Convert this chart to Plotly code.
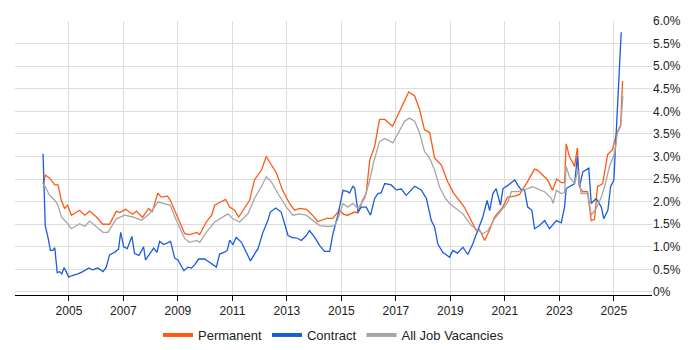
import plotly.graph_objects as go

perm_x = [2004.05, 2004.14, 2004.29, 2004.48, 2004.60, 2004.72, 2004.84, 2004.95, 2005.09, 2005.39,
          2005.58, 2005.76, 2006.01, 2006.24, 2006.49, 2006.74, 2006.86, 2007.08, 2007.34, 2007.48,
          2007.70, 2007.92, 2008.06, 2008.26, 2008.39, 2008.62, 2008.72, 2008.88, 2009.06, 2009.25,
          2009.43, 2009.69, 2009.80, 2010.05, 2010.24, 2010.35, 2010.53, 2010.75, 2010.90, 2011.08,
          2011.23, 2011.45, 2011.63, 2011.81, 2012.07, 2012.24, 2012.44, 2012.62, 2012.84, 2013.10,
          2013.28, 2013.47, 2013.72, 2013.94, 2014.13, 2014.46, 2014.68, 2014.93, 2015.08, 2015.23,
          2015.48, 2015.61, 2015.78, 2015.91, 2016.04, 2016.22, 2016.40, 2016.59, 2016.88, 2017.14,
          2017.32, 2017.47, 2017.69, 2017.87, 2018.05, 2018.24, 2018.42, 2018.67, 2018.90, 2019.12,
          2019.51, 2019.77, 2019.95, 2020.07, 2020.26, 2020.44, 2020.62, 2020.92, 2021.10, 2021.36,
          2021.54, 2021.80, 2022.09, 2022.20, 2022.46, 2022.57, 2022.75, 2022.90, 2023.08, 2023.19,
          2023.25, 2023.37, 2023.56, 2023.66, 2023.74, 2023.85, 2024.03, 2024.17, 2024.29, 2024.40,
          2024.59, 2024.77, 2024.95, 2025.09, 2025.25, 2025.32]
perm_y = [2.40, 2.59, 2.52, 2.37, 2.37, 2.03, 1.85, 1.92, 1.70, 1.81,
          1.70, 1.79, 1.66, 1.50, 1.50, 1.79, 1.76, 1.83, 1.72, 1.79,
          1.65, 1.85, 1.78, 2.19, 2.10, 2.12, 2.03, 1.81, 1.58, 1.29,
          1.27, 1.32, 1.27, 1.56, 1.70, 1.92, 1.98, 2.05, 1.88, 1.81,
          1.66, 1.88, 2.03, 2.48, 2.70, 3.00, 2.81, 2.63, 2.25, 1.96,
          1.81, 1.85, 1.83, 1.70, 1.56, 1.63, 1.63, 1.81, 1.72, 1.70,
          1.77, 1.75, 2.03, 2.18, 2.92, 3.22, 3.82, 3.82, 3.67, 4.00,
          4.26, 4.43, 4.34, 4.04, 3.59, 3.53, 2.97, 2.81, 2.44, 2.19,
          1.88, 1.58, 1.36, 1.38, 1.14, 1.38, 1.66, 1.88, 2.10, 2.12,
          2.16, 2.41, 2.72, 2.70, 2.55, 2.48, 2.25, 2.50, 2.42, 2.42,
          3.28, 3.00, 2.78, 3.19, 2.33, 2.22, 2.22, 1.58, 1.61, 2.33,
          2.40, 3.04, 3.15, 3.48, 3.70, 4.67]

cont_x = [2004.05, 2004.13, 2004.23, 2004.32, 2004.41, 2004.48, 2004.57, 2004.66, 2004.74, 2004.82,
          2004.90, 2004.99, 2005.15, 2005.33, 2005.51, 2005.73, 2005.86, 2006.06, 2006.25, 2006.37,
          2006.49, 2006.68, 2006.82, 2006.90, 2007.01, 2007.14, 2007.31, 2007.41, 2007.57, 2007.74,
          2007.81, 2007.96, 2008.11, 2008.23, 2008.33, 2008.48, 2008.73, 2008.88, 2009.00, 2009.22,
          2009.37, 2009.50, 2009.61, 2009.76, 2009.98, 2010.16, 2010.41, 2010.53, 2010.71, 2010.81,
          2010.90, 2011.02, 2011.14, 2011.33, 2011.51, 2011.66, 2011.81, 2011.94, 2012.12, 2012.30,
          2012.39, 2012.59, 2012.79, 2012.95, 2013.04, 2013.22, 2013.34, 2013.53, 2013.71, 2013.83,
          2014.02, 2014.20, 2014.38, 2014.57, 2014.69, 2014.87, 2015.06, 2015.23, 2015.30, 2015.42,
          2015.49, 2015.61, 2015.73, 2015.91, 2016.07, 2016.22, 2016.34, 2016.46, 2016.59, 2016.83,
          2017.01, 2017.20, 2017.38, 2017.69, 2017.93, 2018.12, 2018.30, 2018.42, 2018.54, 2018.72,
          2018.97, 2019.09, 2019.26, 2019.46, 2019.64, 2019.82, 2020.01, 2020.19, 2020.35, 2020.44,
          2020.56, 2020.68, 2020.84, 2020.93, 2021.11, 2021.36, 2021.48, 2021.60, 2021.72, 2021.84,
          2021.99, 2022.09, 2022.27, 2022.46, 2022.64, 2022.89, 2023.07, 2023.19, 2023.25, 2023.43,
          2023.56, 2023.66, 2023.74, 2023.86, 2024.08, 2024.17, 2024.35, 2024.54, 2024.63, 2024.78,
          2024.88, 2025.00, 2025.09, 2025.17, 2025.27]
cont_y = [3.06, 1.47, 1.21, 0.92, 0.92, 0.98, 0.43, 0.45, 0.40, 0.54,
          0.45, 0.33, 0.37, 0.40, 0.45, 0.53, 0.49, 0.53, 0.45, 0.55,
          0.82, 0.88, 0.95, 1.32, 1.00, 0.96, 1.23, 0.85, 0.81, 1.00,
          0.71, 0.85, 0.97, 0.88, 1.12, 1.05, 1.12, 0.75, 0.71, 0.47,
          0.55, 0.53, 0.60, 0.73, 0.73, 0.66, 0.55, 0.84, 0.88, 0.92,
          1.15, 1.05, 1.21, 1.10, 0.88, 0.69, 0.84, 0.96, 1.32, 1.58,
          1.77, 1.86, 1.77, 1.42, 1.25, 1.20, 1.20, 1.14, 1.25, 1.36,
          1.21, 1.03, 0.90, 0.90, 1.29, 1.70, 2.25, 2.22, 2.19, 2.34,
          2.30, 1.77, 1.88, 1.88, 1.70, 2.07, 2.18, 2.20, 2.40, 2.37,
          2.26, 2.28, 2.14, 2.34, 2.26, 2.07, 1.58, 1.44, 1.06, 0.88,
          0.77, 0.92, 0.86, 0.99, 0.83, 1.06, 1.36, 1.66, 2.03, 1.80,
          2.18, 2.29, 1.92, 2.29, 2.36, 2.48, 2.36, 2.26, 2.26, 1.88,
          1.81, 1.40, 1.47, 1.58, 1.40, 1.58, 1.53, 1.88, 2.29, 2.36,
          2.40, 3.00, 2.33, 2.66, 2.74, 1.96, 2.07, 1.88, 1.62, 1.81,
          2.33, 2.48, 3.59, 4.56, 5.75]

all_x = [2004.05, 2004.13, 2004.29, 2004.48, 2004.60, 2004.72, 2004.90, 2005.09, 2005.39, 2005.58,
         2005.76, 2006.01, 2006.25, 2006.43, 2006.74, 2007.04, 2007.35, 2007.66, 2007.96, 2008.27,
         2008.57, 2008.72, 2008.94, 2009.25, 2009.43, 2009.68, 2009.80, 2010.04, 2010.35, 2010.65,
         2010.83, 2011.02, 2011.26, 2011.57, 2011.81, 2012.06, 2012.24, 2012.43, 2012.67, 2012.98,
         2013.22, 2013.47, 2013.71, 2013.96, 2014.20, 2014.50, 2014.75, 2014.86, 2015.06, 2015.23,
         2015.42, 2015.61, 2015.85, 2016.04, 2016.19, 2016.40, 2016.59, 2016.89, 2017.14, 2017.32,
         2017.50, 2017.69, 2017.87, 2018.05, 2018.24, 2018.42, 2018.60, 2018.79, 2018.97, 2019.15,
         2019.46, 2019.77, 2020.01, 2020.19, 2020.38, 2020.62, 2020.87, 2021.11, 2021.24, 2021.48,
         2021.84, 2022.03, 2022.27, 2022.46, 2022.71, 2022.77, 2022.89, 2023.07, 2023.19, 2023.25,
         2023.37, 2023.56, 2023.68, 2023.80, 2024.05, 2024.17, 2024.35, 2024.54, 2024.66, 2024.84,
         2025.03, 2025.13, 2025.25, 2025.33]
all_y = [2.40, 2.33, 2.14, 2.03, 1.92, 1.66, 1.55, 1.40, 1.51, 1.45,
         1.57, 1.45, 1.32, 1.32, 1.62, 1.70, 1.66, 1.59, 1.73, 1.99,
         1.94, 1.92, 1.59, 1.18, 1.10, 1.14, 1.10, 1.32, 1.55, 1.66,
         1.73, 1.62, 1.55, 1.73, 2.07, 2.33, 2.55, 2.44, 2.18, 1.88,
         1.70, 1.73, 1.70, 1.58, 1.47, 1.45, 1.47, 1.60, 1.96, 1.88,
         1.96, 1.85, 2.07, 2.48, 2.89, 3.33, 3.40, 3.30, 3.59, 3.78,
         3.85, 3.78, 3.52, 3.11, 2.96, 2.70, 2.33, 2.10, 1.96, 1.88,
         1.73, 1.47, 1.36, 1.29, 1.36, 1.62, 1.81, 1.99, 2.22, 2.22,
         2.29, 2.33, 2.26, 2.22, 2.07, 1.96, 2.25, 2.18, 2.20, 2.78,
         2.55, 2.40, 2.70, 2.18, 2.18, 1.70, 1.85, 2.10, 2.33, 2.78,
         3.07, 3.52, 3.67, 4.34]

year_ticks = [2005, 2007, 2009, 2011, 2013, 2015, 2017, 2019, 2021, 2023, 2025]
pct_ticks = [0, 0.5, 1.0, 1.5, 2.0, 2.5, 3.0, 3.5, 4.0, 4.5, 5.0, 5.5, 6.0]
pct_labels = ["0%", "0.5%", "1.0%", "1.5%", "2.0%", "2.5%", "3.0%", "3.5%", "4.0%", "4.5%", "5.0%", "5.5%", "6.0%"]

series = [
    ("Permanent", perm_x, perm_y, "#ff5a14"),
    ("Contract", cont_x, cont_y, "#1a5ce0"),
    ("All Job Vacancies", all_x, all_y, "#a6a6a6"),
]

fig = go.Figure()
for name, xs, ys, col in series:
    fig.add_trace(go.Scatter(x=xs, y=ys, mode="lines", name=name, showlegend=False,
                             line=dict(color=col, width=1.3)))
for name, xs, ys, col in series:
    fig.add_trace(go.Scatter(x=[None], y=[None], mode="lines", name=name, showlegend=True,
                             line=dict(color=col, width=4)))

fig.update_layout(
    width=700, height=350,
    margin=dict(l=7, r=56, t=13, b=63, autoexpand=False),
    paper_bgcolor="white", plot_bgcolor="white",
    font=dict(family="Liberation Sans, Arial, sans-serif", size=12, color="#222"),
    showlegend=True,
    legend=dict(orientation="h", x=0.5, xanchor="center", y=-0.146, yanchor="middle",
                font=dict(size=13, color="#222"), itemwidth=30, traceorder="normal",
                tracegroupgap=0),
    xaxis=dict(range=[2003.02, 2026.4], tickvals=year_ticks, ticktext=[str(y) for y in year_ticks],
               showgrid=True, gridcolor="#dddddd", gridwidth=1,
               showline=True, linecolor="#000", linewidth=1,
               ticks="outside", ticklen=5, tickcolor="#000", zeroline=False,
               fixedrange=True),
    yaxis=dict(range=[-0.067, 6.0], side="right", tickvals=pct_ticks, ticktext=pct_labels,
               showgrid=True, gridcolor="#dddddd", gridwidth=1, zeroline=False,
               showline=False, ticks="", fixedrange=True),
)

fig.write_html("out.html")
